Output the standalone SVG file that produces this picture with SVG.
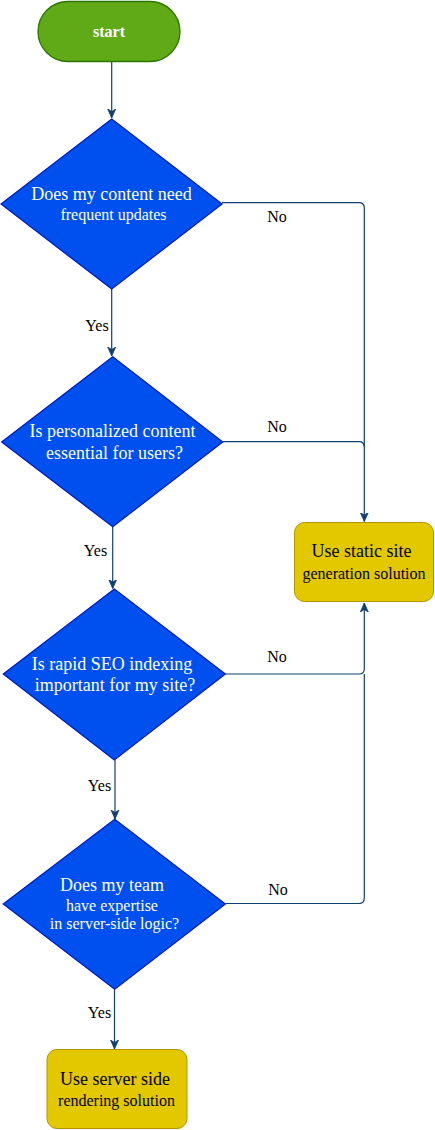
<svg xmlns="http://www.w3.org/2000/svg" width="435" height="1130" viewBox="0 0 435 1130">
<style>
.dia{fill:#0050ef;stroke:#001dbc;stroke-width:1.3}
.term{fill:#60a917;stroke:#2d7600;stroke-width:1.3}
.res{fill:#e3c800;stroke:#b09500;stroke-width:1}
.edge{fill:none;stroke:#10406e;stroke-width:1.2}
text{font-family:'Liberation Serif','DejaVu Serif',serif}
.wt{fill:#ffffff;text-anchor:middle}
.bt{fill:#000000;text-anchor:middle}
.big{font-size:18px}
.sm{font-size:16px}
.lbl{fill:#000000;font-size:16px;text-anchor:middle}
</style>
<defs>
<marker id="arr" markerUnits="userSpaceOnUse" markerWidth="10" markerHeight="10" viewBox="0 0 10 10" refX="9" refY="5" orient="auto">
<path d="M0,1 L9,5 L0,9 L2.5,5 Z" fill="#10406e" stroke="#10406e" stroke-width="0.8"/>
</marker>
</defs>
<g id="connectors" font-family="Liberation Serif, serif">
<path class="edge" d="M111.7,62 V118" marker-end="url(#arr)"/>
<path class="edge" d="M222,202.7 H359 Q364.3,202.7 364.3,208 V521.5" marker-end="url(#arr)"/>
<path class="edge" d="M222.7,441.7 H359 Q364.3,441.7 364.3,447"/>
<path class="edge" d="M111.7,289 V356" marker-end="url(#arr)"/>
<path class="edge" d="M112.7,527 V588.5" marker-end="url(#arr)"/>
<path class="edge" d="M225.3,674 H359 Q364.3,674 364.3,668.7 V603" marker-end="url(#arr)"/>
<path class="edge" d="M225.3,903.5 H359 Q364.3,903.5 364.3,898 V674"/>
<path class="edge" d="M115,760 V819" marker-end="url(#arr)"/>
<path class="edge" d="M114.5,989.5 V1049" marker-end="url(#arr)"/>
<text class="lbl" x="277" y="221.5">No</text>
<text class="lbl" x="277" y="431.5">No</text>
<text class="lbl" x="277" y="661.5">No</text>
<text class="lbl" x="278" y="895">No</text>
<text class="lbl" x="97" y="330.5">Yes</text>
<text class="lbl" x="95.5" y="555.5">Yes</text>
<text class="lbl" x="99.5" y="790.5">Yes</text>
<text class="lbl" x="99.5" y="1018">Yes</text>
</g>
<g id="start">
<rect class="term" x="38" y="1.5" width="142" height="60" rx="30" ry="30"/>
<text class="wt" x="109" y="36.5" font-size="16" font-weight="bold">start</text>
</g>
<g id="q1">
<polygon class="dia" points="111.7,119 222,204 111.7,289 1,204"/>
<text class="wt big" x="111.5" y="200">Does my content need</text>
<text class="wt sm" x="113.5" y="220">frequent updates</text>
</g>
<g id="q2">
<polygon class="dia" points="112.7,356.7 222.7,442 112.7,526.7 1.7,442"/>
<text class="wt big" x="112.5" y="437">Is personalized content</text>
<text class="wt big" x="114.5" y="459">essential for users?</text>
</g>
<g id="q3">
<polygon class="dia" points="114.3,589 225.3,674 114.3,760 3.3,674"/>
<text class="wt big" x="112" y="670">Is rapid SEO indexing</text>
<text class="wt big" x="115" y="691">important for my site?</text>
</g>
<g id="q4">
<polygon class="dia" points="114.7,819.3 225.3,904 114.7,989.3 3.3,904"/>
<text class="wt big" x="112" y="891">Does my team</text>
<text class="wt sm" x="112" y="911">have expertise</text>
<text class="wt sm" x="114.5" y="929">in server-side logic?</text>
</g>
<g id="ssg">
<rect class="res" x="294.5" y="522.5" width="139" height="79" rx="10" ry="10"/>
<text class="bt big" x="361.5" y="557">Use static site</text>
<text class="bt sm" x="364" y="579">generation solution</text>
</g>
<g id="ssr">
<rect class="res" x="47" y="1049.5" width="140" height="79" rx="10" ry="10"/>
<text class="bt big" x="115" y="1085">Use server side</text>
<text class="bt sm" x="116.5" y="1106">rendering solution</text>
</g>
</svg>
